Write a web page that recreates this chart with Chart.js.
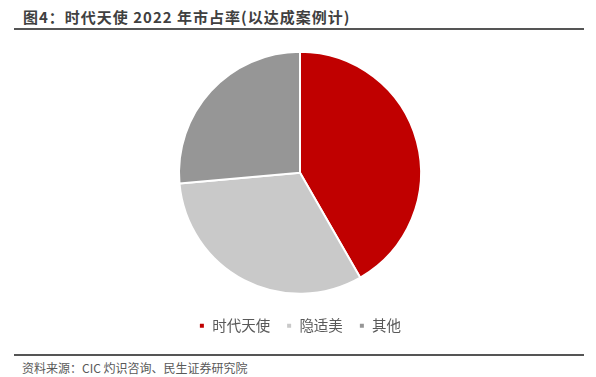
<!DOCTYPE html>
<html>
<head>
<meta charset="utf-8">
<script src="https://cdn.jsdelivr.net/npm/chart.js@4/dist/chart.umd.min.js"></script>
<style>
  html, body { margin: 0; padding: 0; background: #fff; }
  body { width: 596px; height: 377px; position: relative; overflow: hidden;
         font-family: "Noto Sans CJK SC", "Noto Sans", sans-serif; }
  #title { position: absolute; left: 23px; top: 6px; font-size: 15px; font-weight: bold; color: #404040; letter-spacing: 1px; }
  #topline { position: absolute; left: 14px; width: 570px; top: 28px; height: 2px; background: #555; }
  #botline { position: absolute; left: 14px; width: 570px; top: 354px; height: 2px; background: #555; }
  #source { position: absolute; left: 22px; top: 359px; font-size: 12px; color: #595959; }
  #wrap { position: absolute; left: 0; top: 40px; width: 596px; height: 303px; }
</style>
</head>
<body>
<div id="title">图4：时代天使 2022 年市占率(以达成案例计)</div>
<div id="topline"></div>
<div id="wrap"><canvas id="pie"></canvas></div>
<div id="botline"></div>
<div id="source">资料来源：CIC 灼识咨询、民生证券研究院</div>
<script>
// 市占率 (%)
const categories = ['时代天使', '隐适美', '其他'];
const shares = [41.7, 31.9, 26.4];
const sliceColors = ['#C00000', '#C9C9C9', '#969696'];

const ctx = document.getElementById('pie').getContext('2d');
new Chart(ctx, {
    type: 'pie',
    data: {
        labels: categories,
        datasets: [{
            data: shares,
            backgroundColor: sliceColors,
            borderColor: '#ffffff',
            borderWidth: 2,
            radius: 121,
        }]
    },
    options: {
        responsive: true,
        maintainAspectRatio: false,
        animation: false,
        layout: { padding: { top: 3, bottom: 0, left: 4 } },
        plugins: {
            legend: {
                display: true,
                position: 'bottom',
                labels: {
                    boxWidth: 6,
                    boxHeight: 6,
                    padding: 16,
                    color: '#595959',
                    font: { size: 14.5, family: '"Noto Sans CJK SC", sans-serif' }
                }
            },
            tooltip: { enabled: false }
        }
    }
});
</script>
</body>
</html>
